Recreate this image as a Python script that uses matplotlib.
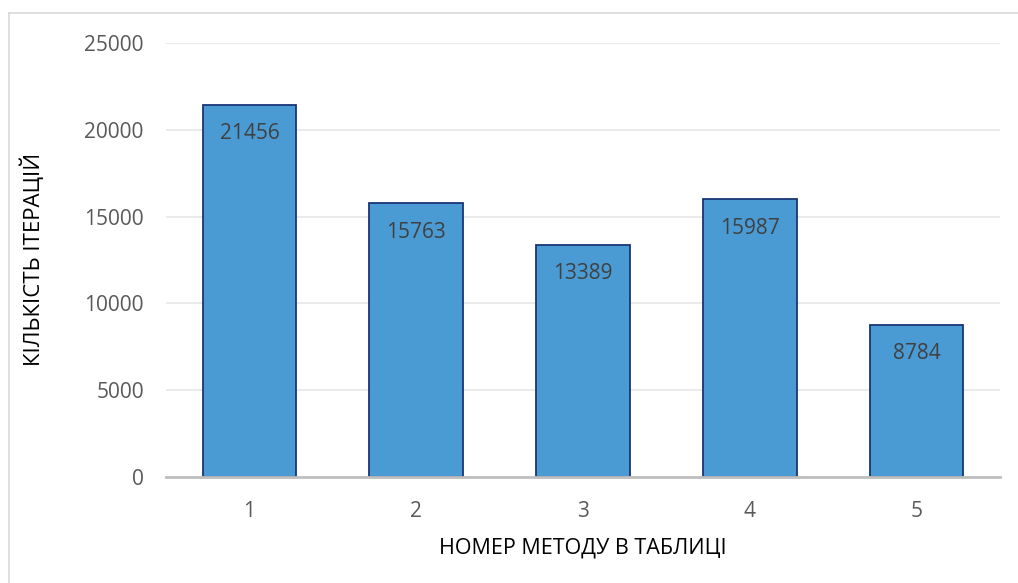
import matplotlib.pyplot as plt
from matplotlib.lines import Line2D

plt.rcParams['font.family'] = ['Open Sans', 'DejaVu Sans']

methods = ['1', '2', '3', '4', '5']
iterations = [21456, 15763, 13389, 15987, 8784]
yticks = [0, 5000, 10000, 15000, 20000, 25000]

fig = plt.figure(figsize=(10.18, 5.83), dpi=100)
ax = fig.add_axes([166 / 1018, 1 - 477 / 583, 834 / 1018, 434 / 583])

x = range(len(methods))
bars = ax.bar(x, iterations, width=0.56, color='#4A9BD4',
              edgecolor='#1A3575', linewidth=1.3, zorder=3)

for xi, v in zip(x, iterations):
    ax.annotate(str(v), (xi, v), xytext=(0, -29), textcoords='offset pixels',
                ha='center', va='center', fontsize=15, color='#404040', zorder=4)

ax.set_xlim(-0.5, len(methods) - 0.5)
ax.set_ylim(0, 25000)
ax.set_xticks(list(x))
ax.set_xticklabels(methods)
ax.set_yticks(yticks)
ax.tick_params(axis='both', length=0, labelsize=15, labelcolor='#595959')
ax.tick_params(axis='x', pad=17)
ax.tick_params(axis='y', pad=16)
ax.grid(axis='y', color='#E6E6E6', linewidth=1.2, zorder=0)
for s in ['top', 'right', 'left']:
    ax.spines[s].set_visible(False)
ax.spines['bottom'].set_color('#BFBFBF')
ax.spines['bottom'].set_linewidth(2)
ax.spines['bottom'].set_zorder(5)

fig.text(583 / 1018, 1 - 548 / 583, 'НОМЕР МЕТОДУ В ТАБЛИЦІ', ha='center', va='center',
         fontsize=15.5, color='black')
fig.text(33 / 1018, 1 - 259 / 583, 'КІЛЬКІСТЬ ІТЕРАЦІЙ', ha='center', va='center',
         rotation=90, fontsize=16, color='black')

# outer frame
fig.add_artist(Line2D([9 / 1018, 9 / 1018], [0, 1 - 13 / 583], color='#D9D9D9', linewidth=1.2))
fig.add_artist(Line2D([9 / 1018, 1], [1 - 13 / 583, 1 - 13 / 583], color='#D9D9D9', linewidth=1.2))

fig.savefig('out.png', dpi=100)
